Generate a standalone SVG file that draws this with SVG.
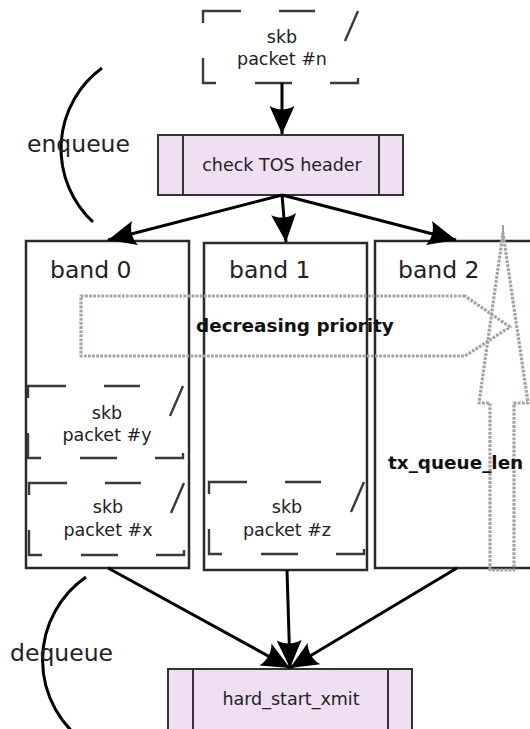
<svg xmlns="http://www.w3.org/2000/svg" xmlns:xlink="http://www.w3.org/1999/xlink" width="530" height="729" viewBox="0 0 530 729">
  <style>
    .lbl { font-family: "DejaVu Sans", "Liberation Sans", sans-serif; fill: #222; }
    .small { font-size: 17.5px; }
    .big { font-size: 23.5px; }
    .bold { font-size: 18.4px; font-weight: bold; fill: #111; }
    .band { fill: #fff; stroke: #2a2a2a; stroke-width: 2.5; }
    .proc { fill: #f0dff2; stroke: #333; stroke-width: 2; }
    .pkt { fill: none; stroke: #3a3a3a; stroke-width: 2.4; }
    .conn { fill: none; stroke: #000; stroke-width: 3; }
    .arc { fill: none; stroke: #000; stroke-width: 3; }
    .dots { fill: none; stroke: #a9a1a1; stroke-width: 3.2; stroke-dasharray: 2.8 1.3; stroke-linejoin: round; }
  </style>
  <defs>
    <marker id="head" markerUnits="userSpaceOnUse" markerWidth="40" markerHeight="40" refX="0" refY="0" orient="auto" overflow="visible">
      <path d="M0,0 L-28,-12.5 C-23.5,-4.5 -23.5,4.5 -28,12.5 Z" fill="#000"/>
    </marker>
    <!-- open dashed packet outline, 155 x 72 -->
    <path id="pktShape" class="pkt" d="M0,12 V0 H38 M76,0 H112 M142,30 L155,0 M0,47 V72 H13 M52,72 H89 M127,72 H155 V67"/>
  </defs>

  <!-- priority bands -->
  <g id="band0">
    <rect class="band" x="26" y="241" width="163" height="327"/>
    <text class="lbl big" x="50" y="278">band 0</text>
  </g>
  <g id="band1">
    <rect class="band" x="204" y="243" width="163" height="327"/>
    <text class="lbl big" x="229" y="278">band 1</text>
  </g>
  <g id="band2">
    <rect class="band" x="375" y="241" width="200" height="327"/>
    <text class="lbl big" x="398" y="278">band 2</text>
  </g>

  <!-- queued packets -->
  <g id="pkt-n">
    <use xlink:href="#pktShape" transform="translate(203,11)"/>
    <text class="lbl small" x="282" y="43" text-anchor="middle">skb</text>
    <text class="lbl small" x="282" y="65" text-anchor="middle">packet #n</text>
  </g>
  <g id="pkt-y">
    <use xlink:href="#pktShape" transform="translate(28,386)"/>
    <text class="lbl small" x="107" y="419" text-anchor="middle">skb</text>
    <text class="lbl small" x="107" y="441" text-anchor="middle">packet #y</text>
  </g>
  <g id="pkt-x">
    <use xlink:href="#pktShape" transform="translate(29,483)"/>
    <text class="lbl small" x="108" y="513" text-anchor="middle">skb</text>
    <text class="lbl small" x="108" y="536" text-anchor="middle">packet #x</text>
  </g>
  <g id="pkt-z">
    <use xlink:href="#pktShape" transform="translate(209,482)"/>
    <text class="lbl small" x="287" y="513" text-anchor="middle">skb</text>
    <text class="lbl small" x="287" y="536" text-anchor="middle">packet #z</text>
  </g>

  <!-- classifier and transmit routines -->
  <g id="checkTOS">
    <rect class="proc" x="158" y="135" width="245" height="60"/>
    <path class="proc" d="M183,135 V195 M379,135 V195"/>
    <text class="lbl small" x="282" y="171" text-anchor="middle">check TOS header</text>
  </g>
  <g id="hardStartXmit">
    <rect class="proc" x="168" y="669" width="244" height="70"/>
    <path class="proc" d="M193,669 V739 M388,669 V739"/>
    <text class="lbl small" x="291" y="705" text-anchor="middle">hard_start_xmit</text>
  </g>

  <!-- dotted indicators -->
  <g id="priority">
    <path class="dots" d="M465,296 H81 V356 H465 L510,327 Z"/>
    <text class="lbl bold" x="196" y="332">decreasing priority</text>
  </g>
  <g id="queueLen">
    <path class="dots" d="M490,570 V403 H479 L503,233 L528,403 H514 V570 Z"/>
    <path d="M503,225 V240" stroke="#a9a1a1" stroke-width="2"/>
    <text class="lbl bold" x="388" y="469">tx_queue_len</text>
  </g>

  <!-- enqueue / dequeue brackets -->
  <g id="enqueue">
    <path class="arc" d="M102,68 A100,100 0 0 0 93,222"/>
    <text class="lbl big" x="27" y="152">enqueue</text>
  </g>
  <g id="dequeue">
    <path class="arc" d="M86,577 A101,101 0 0 0 86,743"/>
    <text class="lbl big" x="10" y="661">dequeue</text>
  </g>

  <!-- connectors -->
  <g id="connectors">
    <path class="conn" d="M282,83 L282,134" marker-end="url(#head)"/>
    <path class="conn" d="M282,195 L108,240" marker-end="url(#head)"/>
    <path class="conn" d="M282,195 L286,242" marker-end="url(#head)"/>
    <path class="conn" d="M282,195 L456,240" marker-end="url(#head)"/>
    <path class="conn" d="M108,568 L290,668" marker-end="url(#head)"/>
    <path class="conn" d="M287,570 L290,668" marker-end="url(#head)"/>
    <path class="conn" d="M457,568 L290,668" marker-end="url(#head)"/>
  </g>
</svg>
